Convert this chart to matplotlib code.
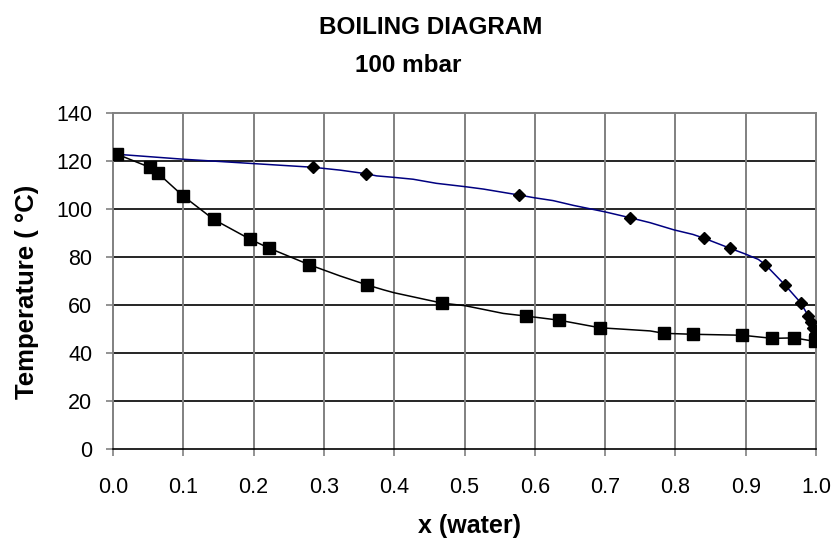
import matplotlib.pyplot as plt

plt.rcParams['font.family'] = ['Liberation Sans', 'DejaVu Sans']

# ---- data ----
# liquid (boiling) points, squares
x_liq = [0.006, 0.052, 0.064, 0.099, 0.143, 0.195, 0.222, 0.279, 0.362, 0.468,
         0.587, 0.634, 0.693, 0.784, 0.825, 0.895, 0.938, 0.969, 0.999]
T_liq = [122.8, 117.4, 114.9, 105.6, 95.7, 87.4, 83.7, 76.8, 68.3, 60.8,
         55.4, 53.7, 50.5, 48.2, 47.8, 47.4, 46.1, 46.3, 44.8]

# vapour (dew) points, diamonds
x_vap = [0.006, 0.284, 0.360, 0.578, 0.735, 0.841, 0.878, 0.928, 0.956, 0.978,
         0.989, 0.993, 0.996, 0.998, 0.999]
T_vap = [122.8, 117.4, 114.7, 105.8, 96.4, 87.8, 83.6, 76.8, 68.3, 61.0,
         55.5, 53.0, 50.5, 48.0, 44.8]

# fitted curves
x_liq_line = [0.006, 0.052, 0.064, 0.099, 0.143, 0.195, 0.222, 0.279, 0.323, 0.362,
              0.385, 0.400, 0.441, 0.468, 0.501, 0.555, 0.587, 0.634, 0.693, 0.721,
              0.764, 0.784, 0.825, 0.895, 0.938, 0.969, 0.999]
T_liq_line = [122.8, 117.4, 114.9, 105.6, 95.7, 87.4, 83.7, 76.8, 72.1, 68.3,
              66.3, 65.1, 62.5, 60.8, 59.7, 56.5, 55.4, 53.7, 50.5, 50.0,
              49.2, 48.2, 47.8, 47.4, 46.1, 46.3, 44.8]

x_vap_line = [0.006, 0.102, 0.201, 0.284, 0.323, 0.360, 0.375, 0.399, 0.427, 0.460,
              0.501, 0.527, 0.578, 0.599, 0.626, 0.655, 0.700, 0.735, 0.764, 0.798,
              0.825, 0.841, 0.878, 0.899, 0.918, 0.928, 0.956, 0.978, 0.989, 0.993,
              0.996, 0.998, 0.999]
T_vap_line = [122.8, 120.7, 118.9, 117.4, 116.2, 114.7, 113.8, 113.2, 112.4, 110.7,
              109.3, 108.3, 105.8, 104.7, 103.5, 101.5, 98.8, 96.4, 94.3, 91.3,
              89.4, 87.8, 83.6, 81.3, 79.0, 76.8, 68.3, 61.0, 55.5, 53.0,
              50.5, 48.0, 44.8]

x_ticks = [i / 10 for i in range(11)]
y_ticks = list(range(0, 141, 20))

# ---- plot ----
fig = plt.figure(figsize=(8.33, 5.41), dpi=100)
ax = fig.add_axes([113 / 833, 92 / 541, 703 / 833, 336 / 541])

ax.plot(x_vap_line, T_vap_line, color='#000080', lw=1.1, zorder=3)
ax.plot(x_vap, T_vap, ls='none', marker='D', ms=6.5, color='black', zorder=4)
ax.plot(x_liq_line, T_liq_line, color='black', lw=1.1, zorder=3)
ax.plot(x_liq, T_liq, ls='none', marker='s', ms=8.5, color='black', zorder=5)

ax.set_xlim(0, 1)
ax.set_ylim(0, 140)
ax.set_xticks(x_ticks)
ax.set_xticklabels([f"{t:.1f}" for t in x_ticks])
ax.set_yticks(y_ticks)

# gridlines: horizontal dark, vertical gray, top and right border gray
for y in y_ticks[1:-1]:
    ax.axhline(y, color='black', lw=1.2, zorder=1)
ax.axhline(y_ticks[-1], color='#808080', lw=1.4, zorder=1, clip_on=False)
for x in x_ticks[1:]:
    ax.axvline(x, color='#808080', lw=1.4, zorder=1, clip_on=False)

for s in ['top', 'right']:
    ax.spines[s].set_visible(False)
ax.spines['left'].set_color('#808080')
ax.spines['left'].set_linewidth(1.4)
ax.spines['bottom'].set_color('black')
ax.spines['bottom'].set_linewidth(1.2)

ax.tick_params(axis='x', direction='out', length=5, width=1.2, color='#808080',
               labelsize=15.5, pad=15)
ax.tick_params(axis='y', direction='out', length=5, width=1.2, color='#808080',
               labelsize=15.5, pad=10)

fig.text(431 / 833, 1 - 27.5 / 541, "BOILING DIAGRAM", ha='center', va='center',
         fontsize=17.5, fontweight='bold')
fig.text(408 / 833, 1 - 66 / 541, "100 mbar", ha='center', va='center',
         fontsize=17.5, fontweight='bold')
fig.text(470 / 833, 1 - 526 / 541, "x (water)", ha='center', va='center',
         fontsize=18, fontweight='bold')
fig.text(27 / 833, 1 - 292 / 541, "Temperature ( \u00b0C)", ha='center', va='center',
         rotation=90, fontsize=18.5, fontweight='bold')

fig.savefig("out.png", dpi=100)
